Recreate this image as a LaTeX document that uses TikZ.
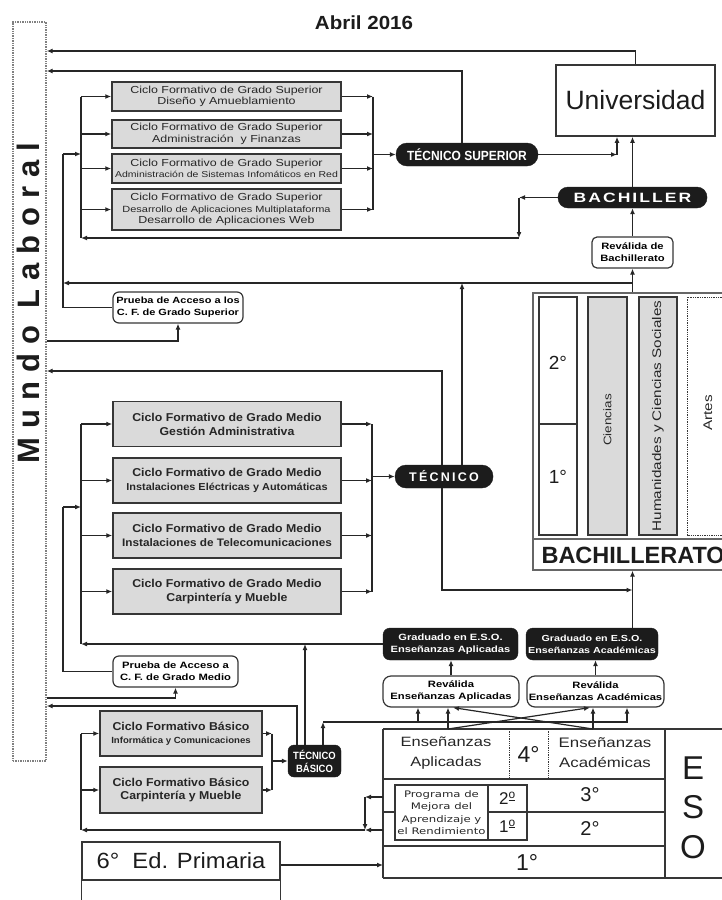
\documentclass[tikz,border=0pt]{standalone}
\usepackage{fontspec}
\setmainfont{Liberation Sans}
\newfontfamily\anchafont{Liberation Sans}[FakeStretch=1.22]
\newfontfamily\mediafont{Liberation Sans}[FakeStretch=1.08]
\newfontfamily\bachfont{Liberation Sans}[FakeStretch=1.3,LetterSpace=15]
\newfontfamily\tecfont{Liberation Sans}[LetterSpace=18]
\newfontfamily\laboralfont{Liberation Sans}[LetterSpace=29]
\newfontfamily\estrechafont{Liberation Sans}[FakeStretch=0.9]
\newfontfamily\pmarfont{DejaVu Sans}[FakeStretch=1.3]
\usetikzlibrary{arrows.meta}
\definecolor{grisCaja}{HTML}{DADADA}
\definecolor{borde}{HTML}{363636}
\definecolor{trazo}{HTML}{262626}
\definecolor{negro}{HTML}{1C1C1C}
\newcommand{\tam}[2]{\fontsize{#1}{#2}\selectfont}
\begin{document}
\begin{tikzpicture}[x=1pt, y=-1pt, >={Latex[length=6pt,width=5pt]},
    conector/.style={draw=trazo, line width=1.2pt},
    flecha/.style={conector, ->},
    tabla/.style={draw=borde, line width=1.3pt},
    ciclo/.style={draw=borde, line width=1.5pt, fill=grisCaja, text=trazo, align=center, inner sep=0pt},
    cfsup/.style={ciclo, minimum width=229pt, font=\anchafont\tam{10.2}{11.5}},
    cfmed/.style={ciclo, minimum width=228pt, minimum height=45pt, font=\mediafont\bfseries\tam{11.4}{14}},
    cfbas/.style={ciclo, minimum width=162pt, minimum height=45pt, font=\mediafont\bfseries\tam{11.4}{13.5}},
    pastilla/.style={draw=negro, fill=negro, text=white, inner sep=0pt, align=center},
    prueba/.style={draw=borde, line width=1.2pt, fill=white, rounded corners=6pt, inner sep=0pt, align=center, font=\anchafont\bfseries\tam{9}{12}}]
    \useasboundingbox (0,0) rectangle (721,900);

    % === Mundo Laboral ===
    \node[draw=gray, densely dotted, line width=1.4pt, fill=white, minimum width=33pt, minimum height=739pt, inner sep=0pt] (mundo) at (29.5,391.5) {};
    \node[rotate=90, font=\laboralfont\bfseries\tam{31}{33}, text=negro] (laboral) at (28.5,303) {Mundo Laboral};
    \node[font=\mediafont\bfseries\tam{19}{22}, text=negro] (titulo) at (364,23) {Abril 2016};

    % ejes y niveles auxiliares
    \coordinate (ejeIzq) at (81,0);
    \coordinate (ejeAcc) at (63,0);
    \coordinate (ejeSup) at (373,0);
    \coordinate (ejeMed) at (372,0);
    \coordinate (ejeBas) at (272,0);
    \coordinate (ejeUni) at (617,0);
    \coordinate (ejeBach) at (519,0);
    \coordinate (ejePm) at (365,0);
    \coordinate (ejeEso) at (383,0);
    \coordinate (nivUni) at (0,51);
    \coordinate (nivTs) at (0,71);
    \coordinate (nivAmu) at (0,238);
    \coordinate (nivBach) at (0,283);
    \coordinate (nivPgs) at (0,341);
    \coordinate (nivTec) at (0,371);
    \coordinate (nivTecB) at (0,590);
    \coordinate (nivPgm) at (0,698);
    \coordinate (nivTb) at (0,706);
    \coordinate (nivRev) at (0,722);
    \coordinate (nivPm) at (0,797);
    \coordinate (nivBas) at (0,830);
    \coordinate (nivPrim) at (0,865);
    \coordinate (entSup) at (63,154);
    \coordinate (entMed) at (63,507);
    \coordinate (esoA) at (448,729);
    \coordinate (esoB) at (593,729);

    % === Universidad y Bachiller ===
    \node[draw=borde, line width=1.5pt, text=negro, minimum width=159pt, minimum height=71pt, font=\tam{26.5}{30}] (univ) at (635.5,100.5) {Universidad};
    \node[pastilla, rounded corners=10pt, minimum width=149pt, minimum height=21pt, font=\bachfont\bfseries\tam{13.5}{15}] (bach) at (632.5,197.5) {BACHILLER};
    \node[prueba, rounded corners=5pt, minimum width=81pt, minimum height=31pt, font=\anchafont\bfseries\tam{9.2}{12}] (revbach) at (632.5,252.5) {Reválida de\\Bachillerato};

    % === Grado Superior ===
    \node[cfsup, minimum height=29pt] (sup1) at (226.5,96.5) {Ciclo Formativo de Grado Superior\\Diseño y Amueblamiento};
    \node[cfsup, minimum height=28pt] (sup2) at (226.5,134) {Ciclo Formativo de Grado Superior\\Administración\ \ y Finanzas};
    \node[cfsup, minimum height=29pt] (sup3) at (226.5,168.5) {Ciclo Formativo de Grado Superior\\\tam{8.6}{10}Administración de Sistemas Infomáticos en Red};
    \node[cfsup, minimum height=41pt] (sup4) at (226.5,209.5) {Ciclo Formativo de Grado Superior\\\tam{9}{10.5}Desarrollo de Aplicaciones Multiplataforma\\Desarrollo de Aplicaciones Web};
    \node[pastilla, rounded corners=11pt, minimum width=142pt, minimum height=23pt, font=\estrechafont\bfseries\tam{13.3}{15}] (ts) at (467,154.5) {TÉCNICO SUPERIOR};
    \node[prueba, minimum width=130pt, minimum height=31pt] (pgs) at (178,307.5) {Prueba de Acceso a los\\C. F. de Grado Superior};

    % === Bachillerato ===
    \node[draw=gray!80!black, line width=1.3pt, minimum width=207pt, minimum height=277pt, inner sep=0pt] (bachto) at (636.5,431.5) {};
    \draw[tabla, draw=gray!80!black] (533,539) -- (740,539);
    \draw[tabla] (539,297) rectangle (577,535) (539,424) -- (577,424);
    \draw[tabla, fill=grisCaja] (588,297) rectangle (627,535);
    \draw[tabla, fill=grisCaja] (639,297) rectangle (677,535);
    \draw[tabla, densely dotted, line width=1pt] (687,297) rectangle (740,535);
    \node[font=\tam{19}{20}, text=negro] (bdos) at (558,363) {2°};
    \node[font=\tam{19}{20}, text=negro] (buno) at (558,477) {1°};
    \node[rotate=90, font=\anchafont\tam{11}{12}, text=trazo] (cien) at (607.5,420) {Ciencias};
    \node[rotate=90, font=\anchafont\tam{12.5}{14}, text=trazo] (hum) at (658,416) {Humanidades y Ciencias Sociales};
    \node[rotate=90, font=\anchafont\tam{12.5}{14}, text=trazo] (artes) at (708,413) {Artes};
    \node[anchor=west, font=\bfseries\tam{23.5}{25}, text=negro] (bachtxt) at (538,555) {BACHILLERATO};

    % === Grado Medio ===
    \node[cfmed] (med1) at (227,424) {Ciclo Formativo de Grado Medio\\Gestión Administrativa};
    \node[cfmed] (med2) at (227,480.5) {Ciclo Formativo de Grado Medio\\\tam{10.1}{12.5}Instalaciones Eléctricas y Automáticas};
    \node[cfmed] (med3) at (227,535.5) {Ciclo Formativo de Grado Medio\\\tam{10.9}{14}Instalaciones de Telecomunicaciones};
    \node[cfmed] (med4) at (227,591.5) {Ciclo Formativo de Grado Medio\\Carpintería y Mueble};
    \node[pastilla, rounded corners=11pt, minimum width=98pt, minimum height=23pt, font=\tecfont\bfseries\tam{12.5}{14}] (tec) at (444,476.5) {TÉCNICO};
    \node[prueba, minimum width=125pt, minimum height=31pt, font=\anchafont\bfseries\tam{9.2}{12}] (pgm) at (175.5,671.5) {Prueba de Acceso a\\C. F. de Grado Medio};

    % === Graduado y Reválidas ===
    \node[pastilla, rounded corners=7pt, minimum width=135pt, minimum height=32pt, font=\anchafont\bfseries\tam{9.1}{12}] (gap) at (450.5,644) {Graduado en E.S.O.\\Enseñanzas Aplicadas};
    \node[pastilla, rounded corners=7pt, minimum width=132pt, minimum height=32pt, font=\anchafont\bfseries\tam{8.8}{12}] (gac) at (592,644) {Graduado en E.S.O.\\Enseñanzas Académicas};
    \node[prueba, rounded corners=8pt, minimum width=136pt, minimum height=31pt, font=\anchafont\bfseries\tam{9.2}{12}] (rap) at (451,691.5) {Reválida\\Enseñanzas Aplicadas};
    \node[prueba, rounded corners=8pt, minimum width=137pt, minimum height=31pt, font=\anchafont\bfseries\tam{9.2}{12}] (rac) at (595.5,691.5) {Reválida\\Enseñanzas Académicas};

    % === Formación Profesional Básica ===
    \node[cfbas] (bas1) at (181,733.5) {Ciclo Formativo Básico\\\tam{8.9}{11}Informática y Comunicaciones};
    \node[cfbas, minimum height=46pt] (bas2) at (181,790) {Ciclo Formativo Básico\\Carpintería y Mueble};
    \node[pastilla, rounded corners=6pt, minimum width=53pt, minimum height=32pt, font=\estrechafont\bfseries\tam{10.5}{13}] (tb) at (314.5,761) {TÉCNICO\\BÁSICO};

    % === Primaria ===
    \node[draw=borde, line width=1.3pt, minimum width=198pt, minimum height=38pt, inner sep=0pt, text=negro, font=\mediafont\tam{22}{24}] (prim) at (181,861) {6°\ \ Ed. Primaria};
    \draw[tabla] (prim.south west) -- ++(0,25) (prim.south east) -- ++(0,25);

    % === ESO ===
    \draw[tabla] (383,729) -- (730,729) (383,878) -- (730,878) (383,729) -- (383,878) (665,729) -- (665,878);
    \draw[tabla] (383,779) -- (665,779) (527,812) -- (665,812) (383,846) -- (665,846);
    \draw[tabla, densely dotted, line width=1pt] (509,729) -- (509,779) (548,729) -- (548,779);
    \draw[tabla] (395,785) rectangle (527,840) (488,785) -- (488,840) (488,812) -- (527,812) (383,812) -- (395,812);
    \node[font=\anchafont\tam{13.5}{20}, align=center, text=trazo] (eap) at (446,753) {Enseñanzas\\Aplicadas};
    \node[font=\tam{23}{24}, text=negro] (cuarto) at (528.5,754) {4°};
    \node[font=\anchafont\tam{13.8}{20}, align=center, text=trazo] (eac) at (605,753) {Enseñanzas\\Académicas};
    \node[font=\pmarfont\tam{9}{12.5}, align=center, text=trazo] (pmar) at (441.5,812.5) {Programa de\\Mejora del\\Aprendizaje y\\el Rendimiento};
    \node[font=\tam{17}{20}, text=negro] (pmdos) at (507.5,798.5) {2\textsuperscript{\underline{o}}};
    \node[font=\tam{17}{20}, text=negro] (pmuno) at (507.5,826) {1\textsuperscript{\underline{o}}};
    \node[font=\tam{20}{22}, text=negro] (tercero) at (590,795) {3°};
    \node[font=\tam{20}{22}, text=negro] (segundo) at (590,829) {2°};
    \node[font=\tam{23}{24}, text=negro] (primero) at (527,862) {1°};
    \node[font=\tam{33}{36}, text=negro] (letE) at (693,768) {E};
    \node[font=\tam{33}{36}, text=negro] (letS) at (693,807) {S};
    \node[font=\tam{33}{36}, text=negro] (letO) at (693,847) {O};

    % === Conectores: Grado Superior ===
    \draw[flecha] (univ.north) |- (mundo.east |- nivUni);
    \draw[flecha] ([xshift=-5pt]ts.north) |- (mundo.east |- nivTs);
    \foreach \c in {sup1,sup2,sup3,sup4} {
        \draw[flecha] (\c.west -| ejeIzq) -- (\c.west);
        \draw[flecha] (\c.east) -- (\c.east -| ejeSup);
    }
    \draw[conector] (sup1.west -| ejeIzq) -- (ejeIzq |- nivAmu);
    \draw[conector] (sup1.east -| ejeSup) -- (sup4.east -| ejeSup);
    \draw[flecha] (ts.west -| ejeSup) -- (ts.west);
    \draw[flecha] (ts.east) -- (ts.east -| ejeUni);
    \draw[flecha] (ts.east -| ejeUni) -- (ejeUni |- univ.south);
    \draw[flecha] (bach.north) -- (bach.north |- univ.south);
    \draw[flecha] (bach.west) -- (bach.west -| ejeBach);
    \draw[flecha] (bach.west -| ejeBach) -- (ejeBach |- nivAmu);
    \draw[flecha] (ejeBach |- nivAmu) -- (ejeIzq |- nivAmu);
    \draw[flecha] (revbach.north) -- (bach.south);
    \draw[flecha] (revbach.south |- bachto.north) -- (revbach.south);
    \draw[flecha] (revbach.south |- nivBach) -- (ejeAcc |- nivBach);
    \draw[flecha] ([xshift=18pt]tec.north) -- ([xshift=18pt]tec.north |- nivBach);
    \draw[flecha] (entSup) -- (entSup -| ejeIzq);
    \draw[conector] (entSup) |- (pgs.west);
    \draw[flecha] (mundo.east |- nivPgs) -| (pgs.south);

    % === Conectores: Grado Medio ===
    \draw[flecha] ([xshift=-2pt]tec.north) |- (mundo.east |- nivTec);
    \draw[flecha] ([xshift=-2pt]tec.south) |- (revbach.south |- nivTecB);
    \draw[flecha] (gac.north -| revbach.south) -- (revbach.south |- bachto.south);
    \foreach \c in {med1,med2,med3,med4} {
        \draw[flecha] (\c.west -| ejeIzq) -- (\c.west);
        \draw[flecha] (\c.east) -- (\c.east -| ejeMed);
    }
    \draw[conector] (med1.west -| ejeIzq) -- (ejeIzq |- gap.west);
    \draw[conector] (med1.east -| ejeMed) -- (med4.east -| ejeMed);
    \draw[flecha] (tec.west -| ejeMed) -- (tec.west);
    \draw[flecha] (gap.west) -- (gap.west -| ejeIzq);
    \draw[flecha] ([xshift=-9.5pt]tb.north) -- ([xshift=-9.5pt]tb.north |- gap.west);
    \draw[flecha] (entMed) -- (entMed -| ejeIzq);
    \draw[conector] (entMed) |- (pgm.west);
    \draw[flecha] (mundo.east |- nivPgm) -| (pgm.south);
    \draw[flecha] ([xshift=-17.5pt]tb.north) |- (mundo.east |- nivTb);

    % === Conectores: Básico y ESO ===
    \foreach \c in {bas1,bas2} {
        \draw[flecha] (\c.west -| ejeIzq) -- (\c.west);
        \draw[flecha] (\c.east) -- (\c.east -| ejeBas);
    }
    \draw[conector] (bas1.west -| ejeIzq) -- (ejeIzq |- nivBas);
    \draw[conector] (bas1.east -| ejeBas) -- (bas2.east -| ejeBas);
    \draw[flecha] (tb.west -| ejeBas) -- (tb.west);
    \draw[flecha] ([xshift=8.5pt]tb.north) -- ([xshift=8.5pt]tb.north |- nivRev);
    \draw[flecha] ([xshift=8.5pt]tb.north |- nivRev) -| ([xshift=31.5pt]rac.south);
    \draw[flecha] ([xshift=-33pt]rap.south |- nivRev) -- ([xshift=-33pt]rap.south);
    \draw[flecha] (esoA) -- (esoA |- rap.south);
    \draw[flecha] (esoA) -- ([xshift=-5.5pt]rac.south);
    \draw[flecha] (esoB) -- (esoB |- rac.south);
    \draw[flecha] (esoB) -- ([xshift=2pt]rap.south);
    \draw[flecha] (rap.north) -- (rap.north |- gap.south);
    \draw[flecha] (rac.north) -- (rac.north |- gac.south);
    \draw[flecha] (ejeEso |- nivPm) -- (ejePm |- nivPm);
    \draw[flecha] (ejePm |- nivPm) -- (ejePm |- nivBas);
    \draw[flecha] (ejeEso |- nivBas) -- (ejePm |- nivBas);
    \draw[flecha] (ejePm |- nivBas) -- (ejeIzq |- nivBas);
    \draw[flecha] (prim.east |- nivPrim) -- (ejeEso |- nivPrim);
\end{tikzpicture}
\end{document}
